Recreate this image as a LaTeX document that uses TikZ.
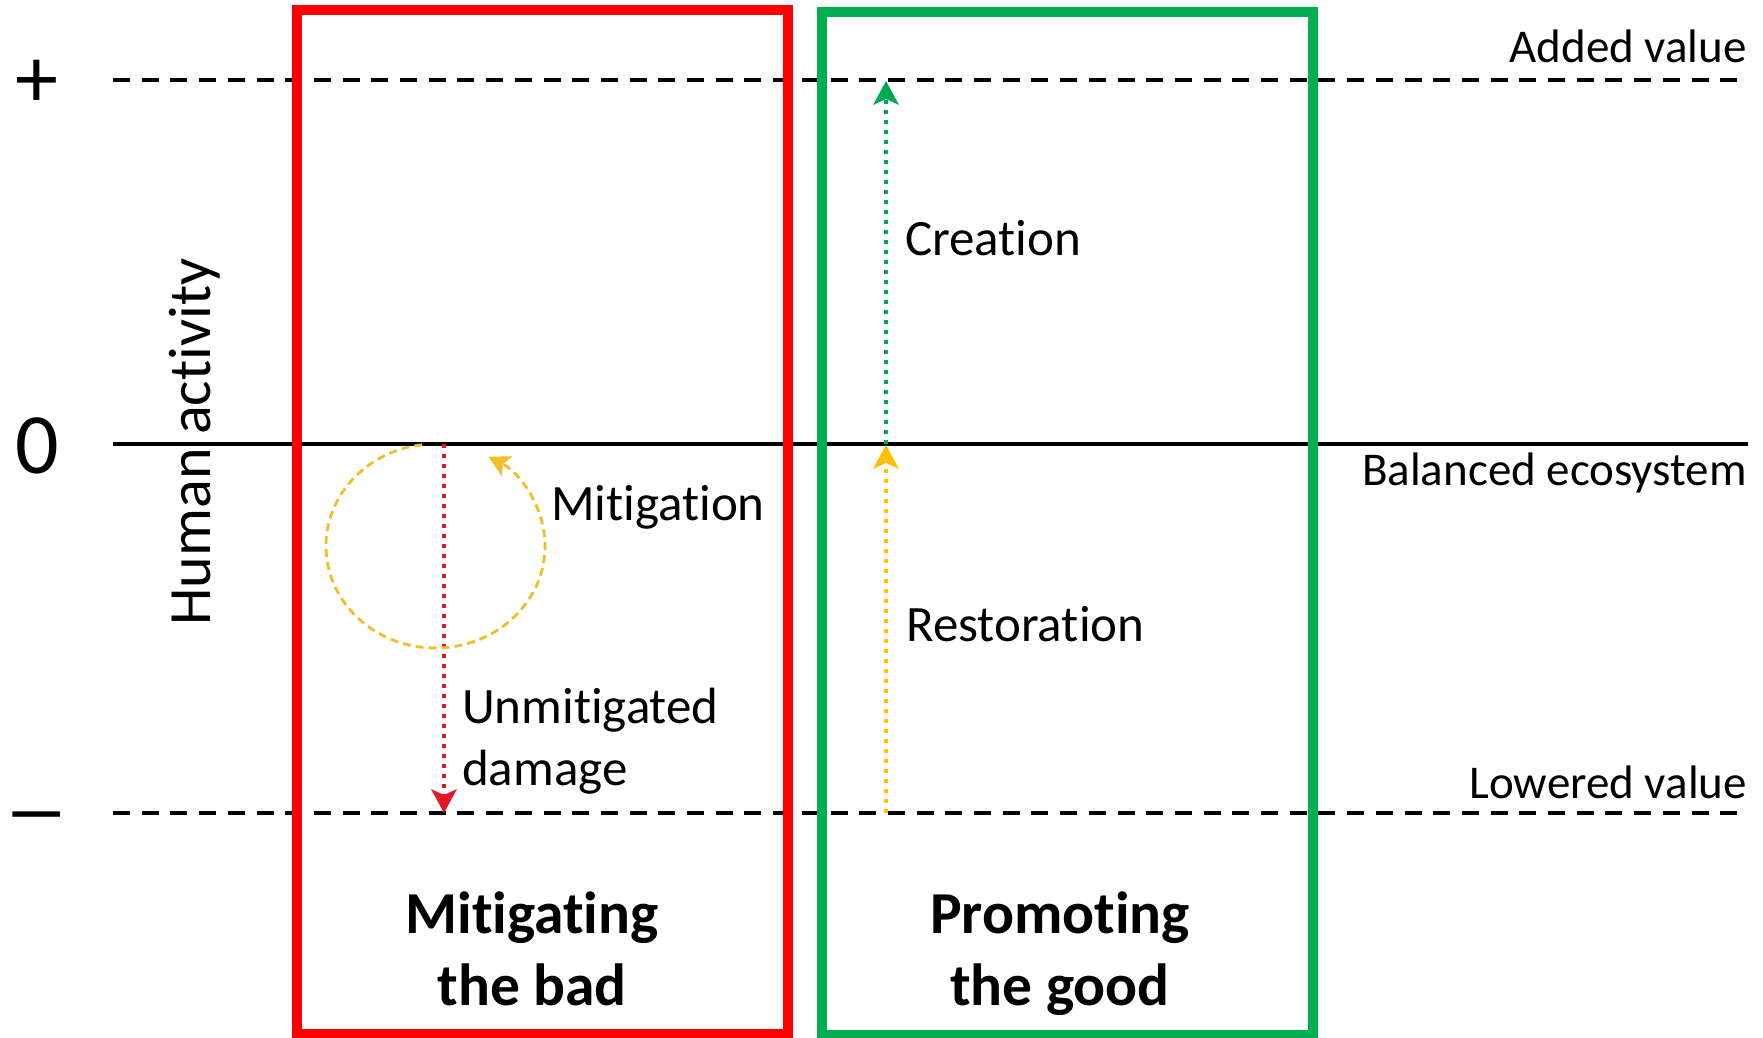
\documentclass[tikz,border=0pt]{standalone}
\usepackage{fontspec}
\setmainfont{Carlito}[Ligatures=NoCommon]
\usetikzlibrary{arrows.meta}
\definecolor{boxred}{RGB}{255,0,0}
\definecolor{boxgreen}{RGB}{0,176,80}
\definecolor{arrred}{RGB}{228,24,36}
\definecolor{arrgreen}{RGB}{0,168,84}
\definecolor{gold}{RGB}{255,192,0}
\definecolor{goldline}{RGB}{240,190,40}
\begin{document}
\begin{tikzpicture}[x=1pt,y=1pt,
 refline/.style={line width=4pt},
 dashline/.style={refline, dash pattern=on 17pt off 11.7pt},
 frame/.style={line width=9.5pt, inner sep=0pt, outer sep=0pt, anchor=north west},
 dotarrow/.style={line width=4.5pt, dash pattern=on 4pt off 6pt,
   -{Stealth[length=24pt,width=26pt,inset=6pt,line width=0pt]}},
 circarrow/.style={line width=2.8pt, dash pattern=on 8pt off 5pt,
   -{Stealth[length=21pt,width=23pt,inset=5pt,line width=0pt]}},
 lbl/.style={inner sep=0pt, font=\fontsize{47}{56}\selectfont},
 mid/.style={inner sep=0pt, font=\fontsize{51}{61}\selectfont},
 big/.style={inner sep=0pt, font=\bfseries\fontsize{59.5}{70}\selectfont},
 sym/.style={inner sep=0pt, font=\fontsize{86}{100}\selectfont},
]
\useasboundingbox (0,0) rectangle (1763,-1038);

% reference lines
\coordinate (ltop) at (113,-80);
\coordinate (rtop) at (1747,-80);
\coordinate (lmid) at (113,-444);
\coordinate (rmid) at (1748,-444);
\coordinate (lbot) at (113,-813);
\coordinate (rbot) at (1747,-813);
\draw[dashline] (ltop) -- (rtop);
\draw[refline] (lmid) -- (rmid);
\draw[dashline] (lbot) -- (rbot);

% axis symbols
\node[sym, anchor=base] (plus) at (37,-108) {+};
\node[sym, anchor=base] (zero) at (37,-473) {0};
\node[sym, anchor=base, xscale=1.55] (minus) at (37,-838) {–};
\node[inner sep=0pt, font=\fontsize{60}{70}\selectfont, rotate=90, anchor=base] (human) at (210,-442) {Human activity};

% right labels
\node[lbl, anchor=base east] (added) at (1747,-63) {Added value};
\node[lbl, anchor=base east] (balanced) at (1747,-485) {Balanced ecosystem};
\node[lbl, anchor=base east] (lowered) at (1747,-798) {Lowered value};

% boxes
\node[frame, draw=boxred, minimum width=491pt, minimum height=1024pt] (badbox) at (297,-10) {};
\node[frame, draw=boxgreen, minimum width=491pt, minimum height=1023pt] (goodbox) at (822,-12) {};

% arrows
\coordinate (rstart) at (444,-444);
\coordinate (rend) at (444,-813);
\coordinate (gstart) at (886,-444);
\coordinate (gend) at (886,-81);
\coordinate (ystart) at (886,-813);
\coordinate (yend) at (886,-445);
\coordinate (mitc) at (435.5,-546);
\draw[dotarrow, arrred] (rstart) -- (rend);
\draw[dotarrow, arrgreen] (gstart) -- (gend);
\draw[dotarrow, gold] (ystart) -- (yend);
\draw[circarrow, goldline] (mitc) ++(97:109.5 and 102)
  arc[start angle=97, end angle=421, x radius=109.5, y radius=102];

% middle labels
\node[mid, anchor=base west] (creation) at (905,-255) {Creation};
\node[mid, anchor=base west] (restoration) at (906,-641) {Restoration};
\node[mid, anchor=base west] (mitigation) at (551,-520) {Mitigation};
\node[mid, anchor=base west] (unmit) at (462,-723) {Unmitigated};
\node[mid, anchor=base west] (damage) at (462,-785) {damage};

% box titles
\node[big, anchor=base] (mitig1) at (532,-933) {Mitigating};
\node[big, anchor=base] (mitig2) at (532,-1005) {the bad};
\node[big, anchor=base] (promo1) at (1060,-933) {Promoting};
\node[big, anchor=base] (promo2) at (1060,-1005) {the good};
\end{tikzpicture}
\end{document}
